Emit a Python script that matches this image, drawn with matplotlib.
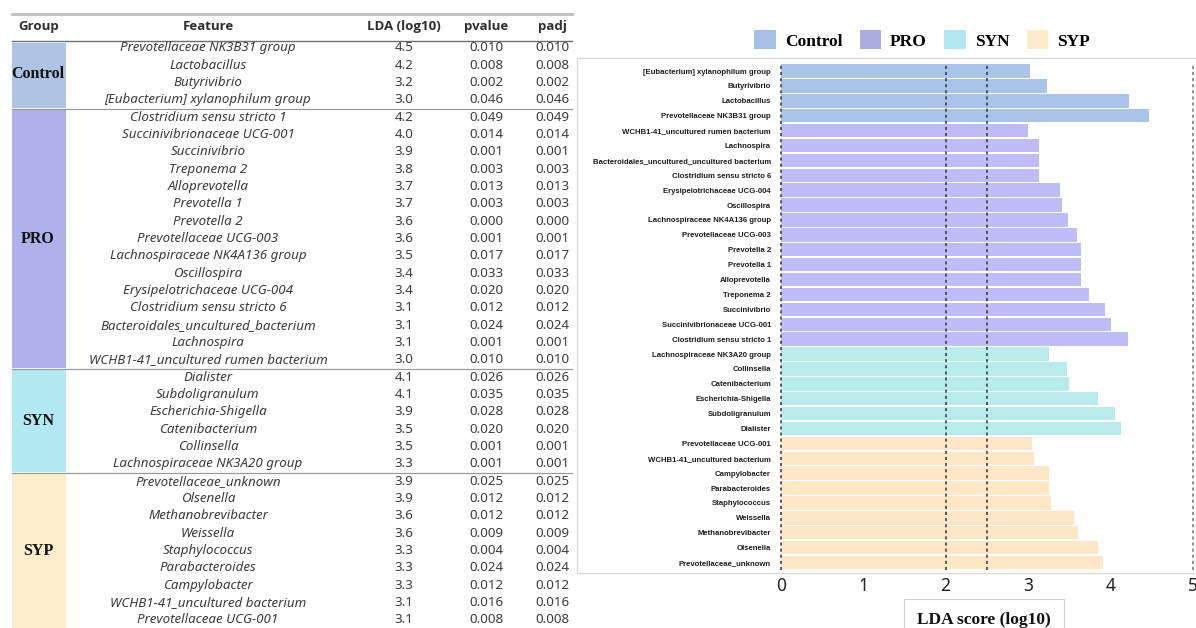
import numpy as np
import matplotlib.pyplot as plt
from matplotlib.patches import Patch, Rectangle

# ---- table data (LEfSe summary) ----
groups = ["Control", "PRO", "SYN", "SYP"]
group_sizes = [4, 15, 6, 9]
features = [
    "Prevotellaceae NK3B31 group", "Lactobacillus", "Butyrivibrio",
    "[Eubacterium] xylanophilum group",
    "Clostridium sensu stricto 1", "Succinivibrionaceae UCG-001", "Succinivibrio",
    "Treponema 2", "Alloprevotella", "Prevotella 1", "Prevotella 2",
    "Prevotellaceae UCG-003", "Lachnospiraceae NK4A136 group", "Oscillospira",
    "Erysipelotrichaceae UCG-004", "Clostridium sensu stricto 6",
    "Bacteroidales_uncultured_bacterium", "Lachnospira",
    "WCHB1-41_uncultured rumen bacterium",
    "Dialister", "Subdoligranulum", "Escherichia-Shigella", "Catenibacterium",
    "Collinsella", "Lachnospiraceae NK3A20 group",
    "Prevotellaceae_unknown", "Olsenella", "Methanobrevibacter", "Weissella",
    "Staphylococcus", "Parabacteroides", "Campylobacter",
    "WCHB1-41_uncultured bacterium", "Prevotellaceae UCG-001",
]
lda = [4.5, 4.2, 3.2, 3.0,
       4.2, 4.0, 3.9, 3.8, 3.7, 3.7, 3.6, 3.6, 3.5, 3.4, 3.4, 3.1, 3.1, 3.1, 3.0,
       4.1, 4.1, 3.9, 3.5, 3.5, 3.3,
       3.9, 3.9, 3.6, 3.6, 3.3, 3.3, 3.3, 3.1, 3.1]
pvalue = [0.010, 0.008, 0.002, 0.046,
          0.049, 0.014, 0.001, 0.003, 0.013, 0.003, 0.000, 0.001, 0.017, 0.033,
          0.020, 0.012, 0.024, 0.001, 0.010,
          0.026, 0.035, 0.028, 0.020, 0.001, 0.001,
          0.025, 0.012, 0.012, 0.009, 0.004, 0.024, 0.012, 0.016, 0.008]
padj = list(pvalue)

# ---- bar chart data (top to bottom) ----
bar_labels = [
    "[Eubacterium] xylanophilum group", "Butyrivibrio", "Lactobacillus",
    "Prevotellaceae NK3B31 group",
    "WCHB1-41_uncultured rumen bacterium", "Lachnospira",
    "Bacteroidales_uncultured_uncultured bacterium", "Clostridium sensu stricto 6",
    "Erysipelotrichaceae UCG-004", "Oscillospira", "Lachnospiraceae NK4A136 group",
    "Prevotellaceae UCG-003", "Prevotella 2", "Prevotella 1", "Alloprevotella",
    "Treponema 2", "Succinivibrio", "Succinivibrionaceae UCG-001",
    "Clostridium sensu stricto 1",
    "Lachnospiraceae NK3A20 group", "Collinsella", "Catenibacterium",
    "Escherichia-Shigella", "Subdoligranulum", "Dialister",
    "Prevotellaceae UCG-001", "WCHB1-41_uncultured bacterium", "Campylobacter",
    "Parabacteroides", "Staphylococcus", "Weissella", "Methanobrevibacter",
    "Olsenella", "Prevotellaceae_unknown",
]
bar_scores = [3.03, 3.23, 4.23, 4.47,
              3.00, 3.13, 3.13, 3.13, 3.39, 3.41, 3.49, 3.59, 3.64, 3.64, 3.64,
              3.74, 3.93, 4.01, 4.21,
              3.25, 3.48, 3.50, 3.85, 4.06, 4.13,
              3.05, 3.07, 3.25, 3.26, 3.28, 3.56, 3.61, 3.85, 3.91]
bar_groups = ["Control"] * 4 + ["PRO"] * 15 + ["SYN"] * 6 + ["SYP"] * 9

cell_colors = {"Control": "#adc4e4", "PRO": "#aeb1ea", "SYN": "#b3e9f3", "SYP": "#fdeecb"}
bar_colors = {"Control": "#a9c4e8", "PRO": "#bfbdf8", "SYN": "#b8ecec", "SYP": "#fde7c7"}
legend_colors = {"Control": "#a6bfe3", "PRO": "#a9addf", "SYN": "#b2e8f1", "SYP": "#fdecc9"}

W, H = 1196, 628
fig = plt.figure(figsize=(W / 100, H / 100), dpi=100)

# ================= left: table =================
row0_px, row_h = 48, 17.33
top_px, bot_px = 12, 628
ax_t = fig.add_axes([0, 0, 580 / W, (bot_px - top_px) / H])
ax_t.set_xlim(0, 580)
ax_t.set_ylim((bot_px - row0_px) / row_h, (top_px - row0_px) / row_h)
ax_t.axis("off")

x_left, x_grp, x_right = 12, 66, 572
col_x = {"feature": 208, "lda": 404, "p": 486, "padj": 552}
hdr_y = (27 - row0_px) / row_h
hdr_line = (41 - row0_px) / row_h
top_line = (14 - row0_px) / row_h

head_font = dict(family="Open Sans", fontsize=9.5, fontweight="bold", color="#2e2e2e",
                 ha="center", va="center")
ax_t.text((x_left + x_grp) / 2, hdr_y, "Group", **head_font)
ax_t.text(col_x["feature"], hdr_y, "Feature", **head_font)
ax_t.text(col_x["lda"], hdr_y, "LDA (log10)", **head_font)
ax_t.text(col_x["p"], hdr_y, "pvalue", **head_font)
ax_t.text(col_x["padj"], hdr_y, "padj", **head_font)

ax_t.plot([x_left, x_right], [top_line, top_line], color="#c4c4c4", lw=2.2)
ax_t.plot([x_left, x_right], [hdr_line, hdr_line], color="#6e6e6e", lw=1.0)

start = 0
for g, n in zip(groups, group_sizes):
    y0, y1 = start - 0.5, start + n - 0.5
    if start == 0:
        y0 = hdr_line + 0.04
    ax_t.add_patch(Rectangle((x_left, y0 + 0.06), x_grp - x_left, y1 - y0 - 0.12,
                             facecolor=cell_colors[g], edgecolor="none"))
    ax_t.text((x_left + x_grp) / 2 - 1, start + (n - 1) / 2, g, family="Liberation Serif",
              fontsize=11.5, fontweight="bold", color="#111111", ha="center", va="center")
    if start + n < len(features):
        ax_t.plot([x_left, x_right], [y1, y1], color="#9a9a9a", lw=0.9)
    start += n
ax_t.plot([x_left, x_right], [len(features) - 0.5, len(features) - 0.5],
          color="#d0d0d0", lw=1.2)

val_font = dict(family="Noto Sans", fontsize=9.6, color="#3c3c3c", ha="center", va="center")
for i, (f, l, p, q) in enumerate(zip(features, lda, pvalue, padj)):
    ax_t.text(col_x["feature"], i, f, style="italic", **val_font)
    ax_t.text(col_x["lda"], i, f"{l:.1f}", **val_font)
    ax_t.text(col_x["p"], i, f"{p:.3f}", **val_font)
    ax_t.text(col_x["padj"], i, f"{q:.3f}", **val_font)

# ================= right: LDA bar chart =================
x0_px, x5_px = 780.7, 1192.7
ax_top, ax_bot = 60, 573
ax = fig.add_axes([x0_px / W, 1 - ax_bot / H, (x5_px - x0_px) / W, (ax_bot - ax_top) / H])
y = np.arange(len(bar_labels))
ax.barh(y, bar_scores, height=0.9, color=[bar_colors[g] for g in bar_groups],
        edgecolor="none", zorder=2)
ax.set_xlim(0, 5)
ax.set_ylim(33.7, -0.74)
for xv, c in [(0, "#333333"), (2, "#333333"), (2.5, "#333333"), (5, "#707070")]:
    ax.axvline(xv, ymin=0.005, ymax=0.995, color=c, lw=1.1, ls=(0, (2.0, 2.0)), zorder=3,
               clip_on=False)

ax.set_yticks(y)
ax.set_yticklabels(bar_labels, family="Liberation Sans", fontweight="bold",
                   fontsize=5.6, color="#1e1e1e")
ax.set_xticks(range(6))
ax.set_xticklabels([str(v) for v in range(6)], family="Noto Sans", fontsize=12.5,
                   color="#222222")
ax.tick_params(axis="y", length=0, pad=7)
ax.tick_params(axis="x", length=0, pad=3)
for s in ax.spines.values():
    s.set_visible(False)

ax.set_xlabel("LDA score (log10)", family="Liberation Serif", fontweight="bold",
              fontsize=12.5, color="#111111",
              bbox=dict(boxstyle="square,pad=0.75", facecolor="white", edgecolor="#d0d0d0",
                        lw=0.8))
ax.xaxis.set_label_coords((984 - x0_px) / (x5_px - x0_px), -(620 - ax_bot) / (ax_bot - ax_top))
ax.xaxis.label.set_va("center")

# panel frame around the chart
frame = fig.add_axes([577 / W, 1 - ax_bot / H, (W - 577) / W, (ax_bot - 58) / H])
frame.patch.set_alpha(0)
frame.set_xticks([])
frame.set_yticks([])
for side, s in frame.spines.items():
    s.set_color("#dcdcdc")
    s.set_linewidth(1.0)
frame.spines["right"].set_visible(False)
frame.set_zorder(-1)

handles = [Patch(facecolor=legend_colors[g], edgecolor="none", label=g) for g in groups]
fig.legend(handles=handles, loc="center", bbox_to_anchor=(922 / W, 1 - 40 / H), ncol=4,
           frameon=False, prop=dict(family="Liberation Serif", weight="bold", size=12.5),
           handlelength=1.25, handleheight=1.3, handletextpad=0.5, columnspacing=1.0)

fig.savefig("out.png", dpi=100)
